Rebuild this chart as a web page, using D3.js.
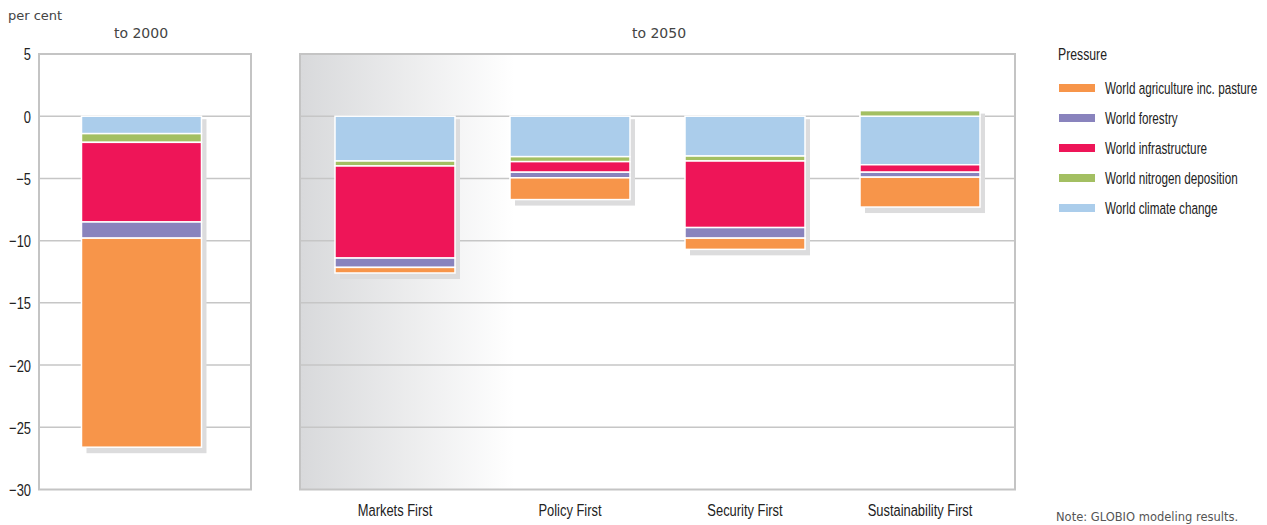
<!DOCTYPE html>
<html><head><meta charset="utf-8">
<script src="https://cdn.jsdelivr.net/npm/d3@7"></script>
<style>
html,body{margin:0;padding:0;background:#fff;}
svg{display:block;}
.cond{font-family:"Liberation Sans","Arial",sans-serif;}
.reg{font-family:"DejaVu Sans","Liberation Sans",sans-serif;}
</style>
</head><body>
<svg id="chart" width="1267" height="525"></svg>
<script>
// ---- data ----
const periodLeft = ["to 2000"];
const scenarios = ["Markets First", "Policy First", "Security First", "Sustainability First"];
const categories = ["to 2000", "Markets First", "Policy First", "Security First", "Sustainability First"];
const seriesKeys = ["World climate change", "World nitrogen deposition", "World infrastructure", "World forestry", "World agriculture inc. pasture"];
const legendOrder = ["World agriculture inc. pasture", "World forestry", "World infrastructure", "World nitrogen deposition", "World climate change"];
const climate     = [-1.4, -3.6, -3.25, -3.2, -3.9];
const nitrogen    = [-0.7, -0.4, -0.4, -0.4, 0.45];
const infra       = [-6.4, -7.4, -0.85, -5.35, -0.6];
const forestry    = [-1.3, -0.75, -0.45, -0.85, -0.4];
const agriculture = [-16.8, -0.45, -1.75, -0.9, -2.4];
const yTicks = [5, 0, -5, -10, -15, -20, -25, -30];
const colors = {
  "World agriculture inc. pasture": "#f7954a",
  "World forestry": "#8983bd",
  "World infrastructure": "#ee1558",
  "World nitrogen deposition": "#a3bf62",
  "World climate change": "#abcdeb"
};

const rows = categories.map((c, i) => ({
  cat: c,
  "World climate change": climate[i],
  "World nitrogen deposition": nitrogen[i],
  "World infrastructure": infra[i],
  "World forestry": forestry[i],
  "World agriculture inc. pasture": agriculture[i]
}));

const svg = d3.select("#chart");
const y = d3.scaleLinear().domain([-30, 5]).range([489.5, 54]);

const xLeft = d3.scaleBand().domain(periodLeft).range([36, 247]).paddingInner(0).paddingOuter(0.379);
const xRight = d3.scaleBand().domain(scenarios).range([307.5, 1007.5]).paddingInner(0.3143).paddingOuter(0.1571);
const xOf = c => periodLeft.includes(c) ? xLeft(c) : xRight(c);
const bw = xRight.bandwidth();

// gradient
const defs = svg.append("defs");
const grad = defs.append("linearGradient").attr("id", "bgGrad").attr("x1", "0").attr("x2", "1").attr("y1", "0").attr("y2", "0");
grad.append("stop").attr("offset", "0%").attr("stop-color", "#d8d9db");
grad.append("stop").attr("offset", "30%").attr("stop-color", "#ffffff");
grad.append("stop").attr("offset", "100%").attr("stop-color", "#ffffff");

const panels = [
  {x0: 39, x1: 251, fill: "#ffffff"},
  {x0: 300, x1: 1015, fill: "url(#bgGrad)"}
];
panels.forEach(p => {
  svg.append("rect").attr("x", p.x0).attr("y", y(5)).attr("width", p.x1 - p.x0).attr("height", y(-30) - y(5)).attr("fill", p.fill);
  const g = svg.append("g");
  g.selectAll("line").data(yTicks.filter(t => t > -30 && t < 5)).join("line")
    .attr("x1", p.x0).attr("x2", p.x1).attr("y1", d => y(d)).attr("y2", d => y(d))
    .attr("stroke", "#c6c6c6").attr("stroke-width", 1.5);
  svg.append("rect").attr("x", p.x0).attr("y", y(5)).attr("width", p.x1 - p.x0).attr("height", y(-30) - y(5))
    .attr("fill", "none").attr("stroke", "#c4c4c4").attr("stroke-width", 2);
});

// stacks
const stack = d3.stack().keys(seriesKeys).offset(d3.stackOffsetDiverging);
const series = stack(rows);

// shadows
const ext = rows.map((r, i) => {
  let lo = 0, hi = 0;
  series.forEach(s => { lo = Math.min(lo, s[i][0], s[i][1]); hi = Math.max(hi, s[i][0], s[i][1]); });
  return {cat: r.cat, lo, hi};
});
svg.append("g").selectAll("rect").data(ext).join("rect")
  .attr("x", d => xOf(d.cat) + 5)
  .attr("y", d => y(d.hi) + 3)
  .attr("width", bw)
  .attr("height", d => y(d.lo) - y(d.hi) + 3)
  .attr("fill", "#dcdcdd");

svg.append("g").selectAll("g").data(series).join("g")
  .attr("fill", d => colors[d.key])
  .selectAll("rect").data(d => d.map(v => ({v, cat: v.data.cat}))).join("rect")
  .attr("x", d => xOf(d.cat))
  .attr("y", d => y(Math.max(d.v[0], d.v[1])))
  .attr("width", bw)
  .attr("height", d => Math.abs(y(d.v[0]) - y(d.v[1])))
  .attr("stroke", "#ffffff").attr("stroke-width", 1.5);

const SX = 0.72;

// y axis labels
const yAxis = d3.axisLeft(y).tickValues(yTicks).tickSize(0).tickPadding(0);
const ya = svg.append("g").attr("transform", "translate(31,0)").call(yAxis);
ya.select(".domain").remove();
ya.selectAll("text").attr("class", "cond").attr("font-size", 17).attr("fill", "#222").attr("dy", "0.35em")
  .attr("transform", `scale(0.76,1)`);

// x axis labels
const xa = svg.append("g").attr("transform", `translate(0,${y(-30)})`).call(d3.axisBottom(xRight).tickSize(0).tickPadding(14));
xa.select(".domain").remove();
xa.selectAll("text").attr("class", "cond").attr("font-size", 17).attr("fill", "#222")
  .attr("transform", `scale(${SX + 0.04},1)`);

// headers
svg.append("text").attr("class", "reg").attr("x", 8).attr("y", 20).attr("font-size", 13).attr("fill", "#444").text("per cent");
svg.append("text").attr("class", "reg").attr("x", 141).attr("y", 38).attr("text-anchor", "middle").attr("font-size", 14).attr("fill", "#444").text("to 2000");
svg.append("text").attr("class", "reg").attr("x", 659).attr("y", 38).attr("text-anchor", "middle").attr("font-size", 14).attr("fill", "#444").text("to 2050");

// legend
const lg = svg.append("g").attr("transform", "translate(1059,0)");
lg.append("g").attr("transform", `translate(-1,60) scale(${SX},1)`)
  .append("text").attr("class", "cond").attr("font-size", 17).attr("fill", "#222").text("Pressure");
const li = lg.selectAll("g.item").data(legendOrder).join("g").attr("class", "item")
  .attr("transform", (d, i) => `translate(0,${88 + i * 30})`);
li.append("rect").attr("x", 0).attr("y", -4).attr("width", 36).attr("height", 8).attr("fill", d => colors[d]);
li.append("g").attr("transform", `translate(46,0) scale(0.69,1)`)
  .append("text").attr("class", "cond").attr("dy", "0.35em").attr("font-size", 17).attr("fill", "#222").text(d => d);

// note
svg.append("text").attr("class", "reg").attr("x", 1056).attr("y", 521).attr("font-size", 11.5).attr("fill", "#555").text("Note: GLOBIO modeling results.");
</script>
</body></html>
